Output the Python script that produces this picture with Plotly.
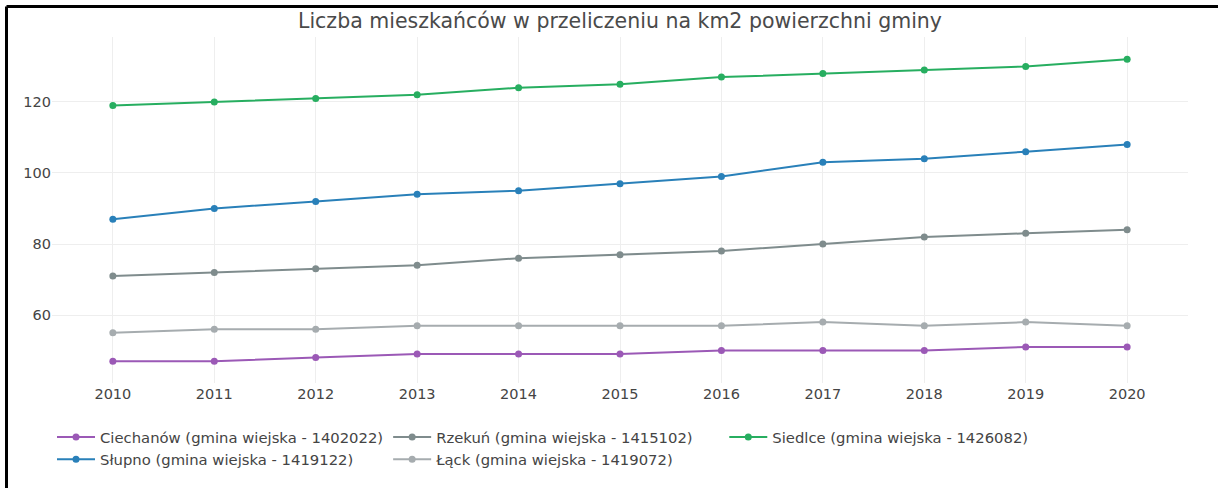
import plotly.graph_objects as go

years = [2010, 2011, 2012, 2013, 2014, 2015, 2016, 2017, 2018, 2019, 2020]

ciechanow = [47, 47, 48, 49, 49, 49, 50, 50, 50, 51, 51]
rzekun = [71, 72, 73, 74, 76, 77, 78, 80, 82, 83, 84]
siedlce = [119, 120, 121, 122, 124, 125, 127, 128, 129, 130, 132]
slupno = [87, 90, 92, 94, 95, 97, 99, 103, 104, 106, 108]
lack = [55, 56, 56, 57, 57, 57, 57, 58, 57, 58, 57]

names = [
    "Ciechanów (gmina wiejska - 1402022)",
    "Rzekuń (gmina wiejska - 1415102)",
    "Siedlce (gmina wiejska - 1426082)",
    "Słupno (gmina wiejska - 1419122)",
    "Łąck (gmina wiejska - 1419072)",
]
series = [ciechanow, rzekun, siedlce, slupno, lack]
colors = ["#9b59b6", "#7f8c8d", "#27ae60", "#2980b9", "#a6acaf"]

FONT = "DejaVu Sans"

fig = go.Figure()
for name, vals, col in zip(names, series, colors):
    fig.add_trace(go.Scatter(
        x=years, y=vals, name=name, mode="lines+markers",
        line=dict(color=col, width=2),
        marker=dict(color=col, size=7),
    ))

W, H = 1218, 488
ml, mr, mt, mb = 52, 30, 37, 105
pw, ph = W - ml - mr, H - mt - mb

def px_x(p):
    return (p - ml) / pw

def px_y(p):
    return 1 - (p - mt) / ph

# frame lines along the top and left edges
fig.add_shape(type="line", xref="paper", yref="paper",
              x0=px_x(6.5), x1=px_x(1230), y0=px_y(6.5), y1=px_y(6.5),
              line=dict(color="black", width=3))
fig.add_shape(type="line", xref="paper", yref="paper",
              x0=px_x(6.5), x1=px_x(6.5), y0=px_y(6.5), y1=px_y(500),
              line=dict(color="black", width=3))

fig.update_layout(
    width=W, height=H,
    margin=dict(l=ml, r=mr, t=mt, b=mb),
    paper_bgcolor="white", plot_bgcolor="white",
    font=dict(family=FONT, size=14, color="#444"),
    title=dict(text="Liczba mieszkańców w przeliczeniu na km2 powierzchni gminy",
               x=620 / W, xanchor="center", y=1 - 21 / H, yanchor="middle",
               font=dict(family=FONT, size=20.5, color="#4a4a4a")),
    xaxis=dict(range=[2009.4, 2020.6], tickmode="array", tickvals=years,
               ticktext=[str(y) for y in years],
               showgrid=True, gridcolor="#eeeeee", zeroline=False,
               showline=False, ticks="", tickfont=dict(size=14.5)),
    yaxis=dict(range=[40.85, 138.3], tickvals=[60, 80, 100, 120],
               showgrid=True, gridcolor="#eeeeee", zeroline=False,
               showline=False, ticks="", tickfont=dict(size=14.5)),
    legend=dict(orientation="h", x=px_x(52), xanchor="left",
                y=px_y(421), yanchor="top", itemwidth=38,
                font=dict(family=FONT, size=14.8, color="#444")),
)

fig.write_html("out.html")
